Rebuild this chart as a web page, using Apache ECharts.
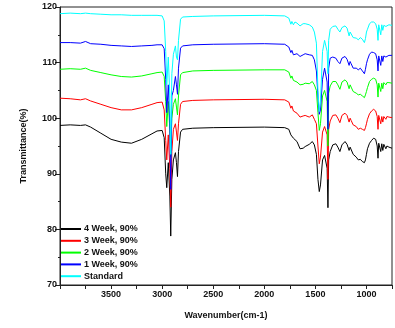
<!DOCTYPE html>
<html><head><meta charset="utf-8">
<script src="https://cdn.jsdelivr.net/npm/echarts@6/dist/echarts.min.js"></script>
<style>html,body{margin:0;padding:0;background:#fff}#c{width:395px;height:328px}</style>
</head><body><div id="c"></div>
<script>
const wavenumbers = [4000,3900,3800,3750,3700,3600,3500,3400,3300,3200,3100,3050,3000,2980,2965,2955,2940,2925,2916,2905,2890,2870,2860,2850,2840,2820,2800,2700,2500,2000,1800,1760,1740,1730,1715,1700,1680,1650,1620,1600,1560,1530,1510,1490,1475,1462,1450,1430,1410,1395,1385,1377,1370,1355,1330,1300,1280,1260,1240,1210,1190,1170,1160,1150,1130,1100,1080,1060,1040,1020,1010,1000,990,970,950,930,910,895,887,880,870,860,850,840,830,820,810,800,780,750];

const week4 = [98.7,98.8,98.7,98.8,98.4,97.3,96.2,95.7,95.5,96.2,97.2,97.7,97.8,96.5,90,87.5,92,86,78.8,89,92.5,93.8,92,89.5,94,97.5,98,98.2,98.3,98.4,98.3,98.0,97.0,97.3,96.4,96.5,95.8,94.5,94.6,94.9,95.3,95.8,95.2,93.5,89,86.8,88,92.5,93.3,93,91,83.9,92.5,94,95.2,95.4,94.8,94,95.2,95.8,95.3,94.2,94.8,94.5,93.5,93,92.5,92.6,92.2,92.0,92.5,93.5,94.5,95.5,96,96.4,96.2,95,92.8,95.5,95.6,94,95.4,94.2,95.3,95,94.5,95,94.8,94.6];

const week3 = [103.6,103.5,103.3,103.5,103.1,102.5,101.9,101.5,101.5,101.9,102.5,102.8,102.9,101.5,96,92.5,97,91,84,94,98,99,97.5,96,99,102.5,103,103.2,103.3,103.4,103.3,102.9,101.8,102.2,101.3,101.5,100.9,100.2,100.4,100.5,100.2,100.6,99.8,99,95,91.8,93,97.5,98.5,98.5,97,89,98,99.5,100.5,100.6,100,99.2,100.5,100.9,100.5,99.3,100,99.6,98.8,98.5,98,98.2,98,97.8,98.3,99,99.8,100.8,101.3,101.6,101.3,100.3,98,100.5,100.8,99,100.3,99.3,100.3,100,99.8,100.3,100.2,100.1];

const week2 = [108.8,108.9,108.8,109.0,108.6,108.2,107.8,107.5,107.4,107.6,108,108.2,108.3,107.5,103,98.5,103,98,93,100,102.5,103.5,102,100.6,104,107.8,108.2,108.5,108.6,108.7,108.7,108.3,107.2,107.6,106.8,107,106.5,106,106.1,106.3,106.2,106.6,106,105,101,97.8,99,104,105,104.8,103,95,104.5,105.8,106.6,106.6,106,105.2,106.5,106.9,106.5,105.3,106,105.6,104.8,104.5,104.2,104.3,104,103.7,104.2,104.8,105.5,106.6,107,107.2,107,106,103.8,106.3,106.6,104.8,106.3,105.3,106.4,106.2,106,106.4,106.4,106.3];

const week1 = [113.6,113.6,113.5,113.8,113.4,113.3,113.1,113.0,112.9,113.0,113.1,113.2,113.2,112.5,107,101,106,99,87.2,104,105,107.5,106,104.3,109,112.6,113,113.2,113.3,113.4,113.3,112.8,111.8,112.2,111.4,111.7,111.6,111.1,111.4,111.6,111.4,111.3,110.5,108.5,104,100.7,101.5,107,109,109,106.5,98,109,110.8,111,110.8,110.2,109.8,110.8,111.1,110.6,109.5,110.2,109.8,109,109,108.7,109,108.5,108,108.8,109.8,110.5,111.5,111.9,111.8,111.6,110.5,108.5,111.2,111.5,109.5,111.2,110.2,111.2,111.2,111,111.3,111.3,111.3];

const standard = [118.8,118.9,118.8,118.9,118.8,118.7,118.6,118.6,118.5,118.5,118.5,118.5,118.4,117.5,112,106,111,104,93.5,108,111.5,113,111,110.5,114,117.8,118.2,118.3,118.4,118.5,118.4,118.0,116.9,117.4,116.8,117.3,117.1,116.6,117,117,116.8,116.4,115.5,113.5,105,101.2,103,112,114,114,112,108,114,116,116.5,116.6,116,115.5,116.3,116.6,116.2,114.8,115.5,115.2,114.5,114.4,114.1,114.5,114.2,113.6,114.3,115.5,116,117,117.3,117.3,117,116,114,116.8,117,115,116.8,115.8,116.7,116.6,116.5,116.8,116.8,116.7];

const seriesNames = ['4 Week, 90%','3 Week, 90%','2 Week, 90%','1 Week, 90%','Standard'];
const seriesValues = [week4, week3, week2, week1, standard];
const seriesColors = ['#000000','#ff0000','#00ff00','#0000ff','#00ffff'];

const font = 'Liberation Sans, Arial, sans-serif';
const chart = echarts.init(document.getElementById('c'), null, {renderer:'canvas'});
chart.setOption({
  animation:false,
  backgroundColor:'#fff',
  grid:{left:60,right:3,top:7,bottom:43,show:true,borderColor:'#222',borderWidth:1,backgroundColor:'transparent'},
  legend:{
    orient:'vertical', left:61, top:224, itemWidth:20, itemHeight:2, itemGap:1.8, icon:'rect',
    textStyle:{fontFamily:font,fontSize:9,fontWeight:'bold',color:'#111',lineHeight:10, padding:[0,0,0,-2]},
    padding:0,
    data:seriesNames
  },
  xAxis:{
    type:'value', inverse:true, min:750, max:4000, interval:250,
    name:'Wavenumber(cm-1)', nameLocation:'middle', nameGap:26,
    nameTextStyle:{fontFamily:font,fontSize:9,fontWeight:'bold',color:'#111'},
    axisLine:{lineStyle:{color:'#222',width:1}},
    axisTick:{show:true,length:4,lineStyle:{color:'#222'}},
    axisLabel:{fontFamily:font,fontSize:9,fontWeight:'bold',color:'#111',margin:5,
      formatter:v => (v%500===0 && v<4000) ? String(v) : ''},
    splitLine:{show:false}
  },
  yAxis:{
    type:'value', min:70, max:120, interval:10,
    name:'Transmittance(%)', nameLocation:'middle', nameGap:32, nameRotate:90,
    nameTextStyle:{fontFamily:font,fontSize:9,fontWeight:'bold',color:'#111'},
    axisLine:{show:true,lineStyle:{color:'#222',width:1}},
    axisTick:{show:true,length:5,lineStyle:{color:'#222'}},
    minorTick:{show:true,splitNumber:2,length:2,lineStyle:{color:'#222'}},
    axisLabel:{fontFamily:font,fontSize:9,fontWeight:'bold',color:'#111',margin:3},
    splitLine:{show:false}
  },
  series: seriesNames.map((n,i)=>({
    name:n, type:'line', showSymbol:false, symbol:'none',
    lineStyle:{color:seriesColors[i],width:1},
    itemStyle:{color:seriesColors[i]},
    data: wavenumbers.map((w,j)=>[w, seriesValues[i][j]])
  }))
});
</script></body></html>
